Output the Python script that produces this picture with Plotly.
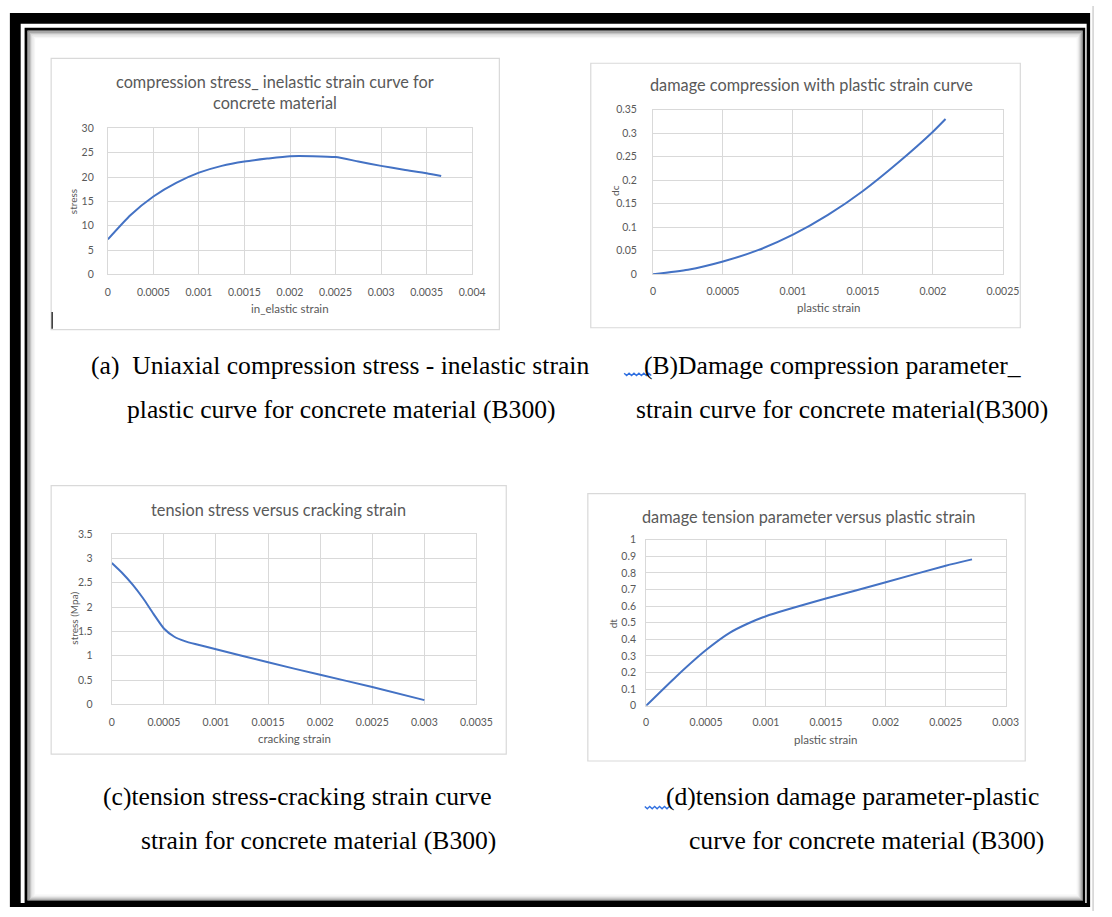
import plotly.graph_objects as go

# ---------------- data ----------------
# (a) compression stress vs inelastic strain
a_strain = [0, 0.00025, 0.0005, 0.00075, 0.001, 0.00125, 0.0015, 0.00175, 0.002, 0.00225, 0.0025, 0.00275, 0.003, 0.00325, 0.0035, 0.00366]
a_stress = [7.2, 12.2, 16.0, 18.8, 20.9, 22.3, 23.2, 23.8, 24.3, 24.3, 24.1, 23.2, 22.3, 21.5, 20.8, 20.2]

# (b) damage compression vs plastic strain
b_strain = [0, 0.00025, 0.0005, 0.00075, 0.001, 0.00125, 0.0015, 0.00175, 0.002, 0.00209]
b_dc = [0, 0.0095, 0.027, 0.051, 0.084, 0.126, 0.177, 0.237, 0.303, 0.330]

# (c) tension stress vs cracking strain
c_strain = [0, 0.0001, 0.0002, 0.0003, 0.0004, 0.0005, 0.0006, 0.0007, 0.0008, 0.001, 0.0015, 0.002, 0.0025, 0.003]
c_stress = [2.905, 2.70, 2.46, 2.18, 1.86, 1.56, 1.39, 1.30, 1.24, 1.135, 0.865, 0.608, 0.358, 0.088]

# (d) damage tension vs plastic strain
d_strain = [0, 0.00025, 0.0005, 0.0007, 0.00085, 0.001, 0.0015, 0.002, 0.0025, 0.00272]
d_dt = [0, 0.175, 0.335, 0.44, 0.495, 0.539, 0.645, 0.743, 0.843, 0.881]

# tick labels
a_xticks = [0, 0.0005, 0.001, 0.0015, 0.002, 0.0025, 0.003, 0.0035, 0.004]
a_xlabels = ["0", "0.0005", "0.001", "0.0015", "0.002", "0.0025", "0.003", "0.0035", "0.004"]
a_yticks = [0, 5, 10, 15, 20, 25, 30]
a_ylabels = ["0", "5", "10", "15", "20", "25", "30"]

b_xticks = [0, 0.0005, 0.001, 0.0015, 0.002, 0.0025]
b_xlabels = ["0", "0.0005", "0.001", "0.0015", "0.002", "0.0025"]
b_yticks = [0, 0.05, 0.1, 0.15, 0.2, 0.25, 0.3, 0.35]
b_ylabels = ["0", "0.05", "0.1", "0.15", "0.2", "0.25", "0.3", "0.35"]

c_xticks = [0, 0.0005, 0.001, 0.0015, 0.002, 0.0025, 0.003, 0.0035]
c_xlabels = ["0", "0.0005", "0.001", "0.0015", "0.002", "0.0025", "0.003", "0.0035"]
c_yticks = [0, 0.5, 1, 1.5, 2, 2.5, 3, 3.5]
c_ylabels = ["0", "0.5", "1", "1.5", "2", "2.5", "3", "3.5"]

d_xticks = [0, 0.0005, 0.001, 0.0015, 0.002, 0.0025, 0.003]
d_xlabels = ["0", "0.0005", "0.001", "0.0015", "0.002", "0.0025", "0.003"]
d_yticks = [0, 0.1, 0.2, 0.3, 0.4, 0.5, 0.6, 0.7, 0.8, 0.9, 1]
d_ylabels = ["0", "0.1", "0.2", "0.3", "0.4", "0.5", "0.6", "0.7", "0.8", "0.9", "1"]

# ---------------- layout helpers ----------------
W, H = 1112, 917


def px(x):
    return x / W


def py(y):
    return 1 - y / H


LINE = "#4472C4"
GRID = "#d9d9d9"
TXT = "#595959"
SANS = "Lato, 'Open Sans', sans-serif"
SERIF = "'Liberation Serif', 'Times New Roman', serif"

fig = go.Figure()

panels = [
    dict(x=a_strain, y=a_stress, xt=a_xticks, xl=a_xlabels, yt=a_yticks, yl=a_ylabels,
         xr=[0, 0.004], yr=[0, 30], dom_x=(106.7, 477.3), dom_y=(124, 272), xs=8, ys=11),
    dict(x=b_strain, y=b_dc, xt=b_xticks, xl=b_xlabels, yt=b_yticks, yl=b_ylabels,
         xr=[0, 0.0025], yr=[0, 0.35], dom_x=(661.3, 1017.3), dom_y=(105, 271.7), xs=7, ys=13),
    dict(x=c_strain, y=c_stress, xt=c_xticks, xl=c_xlabels, yt=c_yticks, yl=c_ylabels,
         xr=[0, 0.0035], yr=[0, 3.5], dom_x=(110.7, 481.7), dom_y=(535, 707.7), xs=8, ys=16),
    dict(x=d_strain, y=d_dt, xt=d_xticks, xl=d_xlabels, yt=d_yticks, yl=d_ylabels,
         xr=[0, 0.003], yr=[0, 1], dom_x=(654.3, 1020), dom_y=(540.7, 709), xs=7, ys=7),
]

shapes = []
annotations = []

# page frame
shapes.append(dict(type="rect", xref="paper", yref="paper", x0=px(7), x1=px(1106), y0=py(913), y1=py(7),
                   fillcolor="black", line=dict(width=0), layer="below"))
shapes.append(dict(type="rect", xref="paper", yref="paper", x0=px(18), x1=px(1102.5), y0=py(909), y1=py(18),
                   fillcolor="white", line=dict(width=0), layer="below"))
shapes.append(dict(type="rect", xref="paper", yref="paper", x0=px(23.5), x1=px(1099.5), y0=py(907.5), y1=py(23.5),
                   fillcolor="rgba(0,0,0,0)", line=dict(color="black", width=3), layer="below"))
# inner shadow
for i, c in enumerate(["#8a8a8a", "#a8a8a8", "#c4c4c4", "#dadada", "#ebebeb", "#f6f6f6"]):
    o = 25.5 + i * 1.3
    shapes.append(dict(type="rect", xref="paper", yref="paper", x0=px(o), x1=px(1098 - i * 1.0),
                       y0=py(906 - i * 1.0), y1=py(o), fillcolor="rgba(0,0,0,0)",
                       line=dict(color=c, width=1.4), layer="below"))
# light gray edge at right
shapes.append(dict(type="line", xref="paper", yref="paper", x0=px(1109), x1=px(1109), y0=py(917), y1=py(0),
                   line=dict(color="#bbbbbb", width=1), layer="below"))

# chart boxes
boxes = [(49, 53, 505, 328), (598, 58, 1035, 326), (49, 486, 512, 758), (595, 494, 1040, 765)]
for (x0, y0, x1, y1) in boxes:
    shapes.append(dict(type="rect", xref="paper", yref="paper", x0=px(x0), x1=px(x1), y0=py(y1), y1=py(y0),
                       fillcolor="white", line=dict(color=GRID, width=1.2), layer="below"))

for i, p in enumerate(panels):
    n = "" if i == 0 else str(i + 1)
    fig.add_trace(go.Scatter(x=p["x"], y=p["y"], mode="lines", xaxis="x" + n, yaxis="y" + n,
                             line=dict(color=LINE, width=2, shape="spline", smoothing=0.6),
                             showlegend=False, hoverinfo="x+y"))
    common = dict(showgrid=True, gridcolor=GRID, gridwidth=1, zeroline=False, showline=True,
                  linecolor=GRID, linewidth=1, mirror=True, ticks="",
                  tickfont=dict(family=SANS, size=10.5, color=TXT), fixedrange=True)
    fig.update_layout(**{
        "xaxis" + n: dict(domain=[px(p["dom_x"][0]), px(p["dom_x"][1])], range=p["xr"],
                          tickvals=p["xt"], ticktext=p["xl"], anchor="y" + n, ticklabelstandoff=p["xs"], **common),
        "yaxis" + n: dict(domain=[py(p["dom_y"][1]), py(p["dom_y"][0])], range=p["yr"],
                          tickvals=p["yt"], ticktext=p["yl"], anchor="x" + n, ticklabelstandoff=p["ys"], **common),
    })


def ann(text, x, y, size, color=TXT, family=SANS, xanchor="center", angle=0):
    annotations.append(dict(text=text, x=px(x), y=py(y), xref="paper", yref="paper", showarrow=False,
                            xanchor=xanchor, yanchor="middle", textangle=angle,
                            font=dict(family=family, size=size, color=color)))


# chart titles
ann("compression stress_ inelastic strain curve for", 277, 76.5, 16.3)
ann("concrete material", 277, 98, 16.3)
ann("damage compression with plastic strain curve", 823, 80, 16.3)
ann("tension stress versus cracking strain", 280, 510, 16.3)
ann("damage tension parameter versus plastic strain", 820, 517, 16.3)

# axis titles
ann("in_elastic strain", 292, 306.5, 11.5)
ann("plastic strain", 840, 305, 11.5)
ann("cracking strain", 297, 742, 11.5)
ann("plastic strain", 837, 743, 11.5)
ann("stress", 72, 198, 10, angle=-90)
ann("dc", 622, 187, 10, angle=-90)
ann("stress (Mpa)", 72, 620, 10, angle=-90)
ann("dt", 620, 625, 10, angle=-90)

# captions
CAP = "#000000"
ann("(a)  Uniaxial compression stress - inelastic strain", 88, 364, 25.6, CAP, SERIF, "left")
ann("plastic curve for concrete material (B300)", 124, 409, 25.6, CAP, SERIF, "left")
ann("(B)Damage compression parameter_", 650, 364, 25.6, CAP, SERIF, "left")
ann("strain curve for concrete material(B300)", 642, 409, 25.6, CAP, SERIF, "left")
ann("(c)tension stress-cracking strain curve", 100, 801, 25.6, CAP, SERIF, "left")
ann("strain for concrete material (B300)", 138, 846, 25.6, CAP, SERIF, "left")
ann("(d)tension damage parameter-plastic", 672, 801, 25.6, CAP, SERIF, "left")
ann("curve for concrete material (B300)", 696, 846, 25.6, CAP, SERIF, "left")


# wavy spell-check underlines
def wavy(x0, x1, y):
    d = "M {:.4f},{:.4f}".format(px(x0), py(y))
    x = x0
    k = 0
    while x < x1:
        x += 2.5
        yy = y + (2.5 if k % 2 == 0 else 0)
        d += " L {:.4f},{:.4f}".format(px(x), py(yy))
        k += 1
    shapes.append(dict(type="path", xref="paper", yref="paper", path=d, line=dict(color="#2f6fe0", width=1.4)))


wavy(632, 659, 372)
wavy(653, 680, 811)

# text cursor
shapes.append(dict(type="line", xref="paper", yref="paper", x0=px(50), x1=px(50), y0=py(327), y1=py(310),
                   line=dict(color="black", width=1.2)))

fig.update_layout(width=W, height=H, margin=dict(l=0, r=0, t=0, b=0), paper_bgcolor="white",
                  plot_bgcolor="white", shapes=shapes, annotations=annotations, showlegend=False)

fig.write_html("out.html", post_script="document.body.style.margin='0';document.body.style.overflow='hidden';",
               config={"displayModeBar": False})
